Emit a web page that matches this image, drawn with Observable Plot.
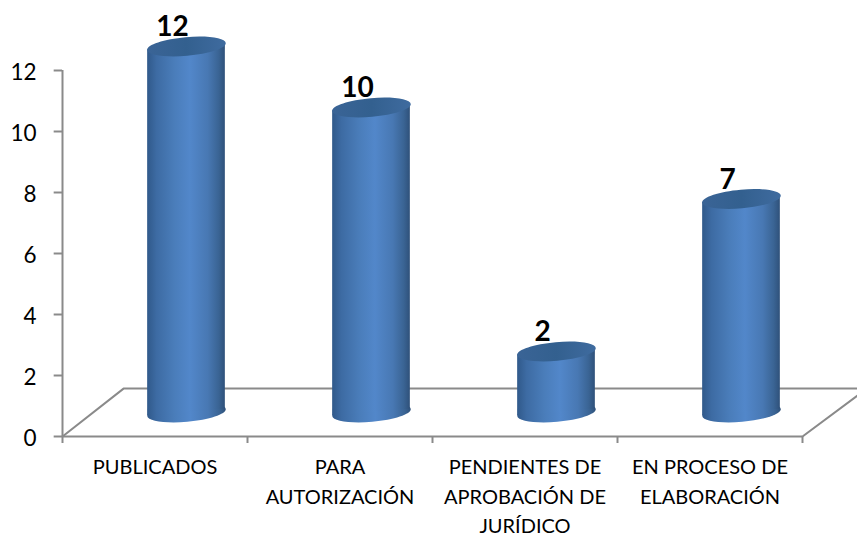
<!DOCTYPE html>
<html><head><meta charset="utf-8">
<style>html,body{margin:0;padding:0;background:#fff}</style>
<script src="https://cdn.jsdelivr.net/npm/d3@7"></script>
<script src="https://cdn.jsdelivr.net/npm/@observablehq/plot@0.6"></script>
</head><body><div id="chart"></div>
<script>
const categories = ["PUBLICADOS", "PARA\nAUTORIZACIÓN", "PENDIENTES DE\nAPROBACIÓN DE\nJURÍDICO", "EN PROCESO DE\nELABORACIÓN"];
const values = [12, 10, 2, 7];
const yTicks = [0, 2, 4, 6, 8, 10, 12];
const xEdges = [0, 1, 2, 3, 4];
const axisColor = "#8a8a8a";
const barHalfWidth = 0.21, tilt = 0.11, barDx = 31.5, barDy = -24;

const rows = categories.map((c, i) => ({c, i, v: values[i]}));
const sides = rows.flatMap(d => [
  {c: d.c, x: d.i + .5 - barHalfWidth, y1: -tilt, y2: d.v - tilt},
  {c: d.c, x: d.i + .5 + barHalfWidth, y1: tilt, y2: d.v + tilt}
]);

function ellipse(rx, ry, deg) {
  const a = deg * Math.PI / 180, k = 0.5523;
  const p = (x, y) => [x * Math.cos(a) - y * Math.sin(a), x * Math.sin(a) + y * Math.cos(a)];
  return {draw(ctx) {
    ctx.moveTo(...p(rx, 0));
    ctx.bezierCurveTo(...p(rx, k*ry), ...p(k*rx, ry), ...p(0, ry));
    ctx.bezierCurveTo(...p(-k*rx, ry), ...p(-rx, k*ry), ...p(-rx, 0));
    ctx.bezierCurveTo(...p(-rx, -k*ry), ...p(-k*rx, -ry), ...p(0, -ry));
    ctx.bezierCurveTo(...p(k*rx, -ry), ...p(rx, -k*ry), ...p(rx, 0));
    ctx.closePath();
  }};
}
const topEllipse = ellipse(39.4, 9.3, -5);

function gradients() {
  const defs = d3.create("svg:defs");
  const add = (id, stops) => {
    const g = defs.append("linearGradient").attr("id", id).attr("x1", 0).attr("x2", 1).attr("y1", 0).attr("y2", 0);
    stops.forEach(([o, c]) => g.append("stop").attr("offset", o).attr("stop-color", c));
  };
  add("cyl", [[0, "#30598a"], [.12, "#3d6ba3"], [.35, "#4a7dba"], [.55, "#5287ca"], [.78, "#4878b3"], [.92, "#3a6494"], [1, "#2f517a"]]);
  add("cap", [[0, "#3a6496"], [.5, "#33608f"], [1, "#3f6b9f"]]);
  return defs.node();
}

const chart = Plot.plot({
  width: 857, height: 533,
  marginLeft: 62, marginRight: 55, marginTop: 70, marginBottom: 97,
  x: {domain: [0, 4], axis: null},
  y: {domain: [0, 12]},
  marks: [
    gradients,
    Plot.line([[0, 0], [0.33, 1.57], [4.297, 1.57]], {x: d => d[0], y: d => d[1], stroke: axisColor, strokeWidth: 2}),
    Plot.line([[4, 0], [4.297, 1.34]], {x: d => d[0], y: d => d[1], stroke: axisColor, strokeWidth: 2}),
    Plot.ruleX([0], {y1: 0, y2: 12, stroke: axisColor, strokeWidth: 2}),
    Plot.ruleY([0], {x1: 0, x2: 4, stroke: axisColor, strokeWidth: 2}),
    Plot.ruleX(xEdges, {y1: 0, y2: -0.23, stroke: axisColor, strokeWidth: 2}),
    Plot.ruleY(yTicks, {x1: -0.045, x2: 0, stroke: axisColor, strokeWidth: 2}),
    Plot.axisY({ticks: yTicks, tickSize: 0, tickPadding: 26, fontSize: 22.5, fontFamily: "Lato", fill: "#000", label: null, dy: 2}),
    Plot.text(rows, {x: d => d.i + .5, y: 0, text: "c", dy: 17.2, lineAnchor: "top", lineHeight: 1.4625, fontSize: 20, fontFamily: "Lato", fill: "#000"}),
    Plot.dot(rows, {x: d => d.i + .5, y: 0, dx: barDx, dy: barDy, symbol: topEllipse, fill: "url(#cyl)", stroke: "none"}),
    Plot.areaY(sides, {x: "x", y1: "y1", y2: "y2", z: "c", dx: barDx, dy: barDy, fill: "url(#cyl)"}),
    Plot.dot(rows, {x: d => d.i + .5, y: "v", dx: barDx, dy: barDy, symbol: topEllipse, fill: "url(#cap)", stroke: "none"}),
    Plot.text(rows, {x: d => d.i + .5, y: "v", text: "v", dx: 17.5, dy: -43, fontSize: 28, fontWeight: 700, fontFamily: "Lato", fill: "#000"})
  ]
});
document.getElementById("chart").append(chart);
</script></body></html>
